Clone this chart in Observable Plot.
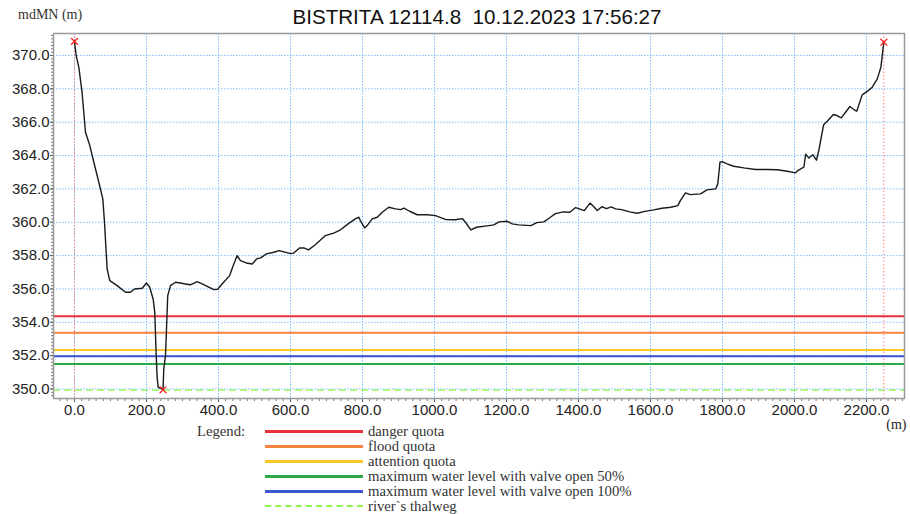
<!DOCTYPE html>
<html><head><meta charset="utf-8">
<script src="https://cdn.jsdelivr.net/npm/d3@7"></script>
<script src="https://cdn.jsdelivr.net/npm/@observablehq/plot@0.6"></script>
<style>
body{margin:0;background:#fff;width:910px;height:514px;position:relative;overflow:hidden;font-family:"Liberation Sans",Arial,sans-serif;color:#222}
#ylab{position:absolute;left:18px;top:7px;font-size:14px;font-family:"Liberation Serif",serif;color:#333}
#title{position:absolute;left:0;width:954px;top:5px;text-align:center;font-size:20.6px;white-space:pre;color:#111}
#chart{position:absolute;left:0;top:28px}
#legend{position:absolute;left:0;top:424px;font-family:"Liberation Serif",serif;font-size:14.7px;color:#333}
.row{position:absolute;height:15px;line-height:15px;white-space:nowrap}
.sw{position:absolute;left:265px;width:98px;top:6px;height:0}
.lt{position:absolute;left:368px;top:0}
#legtitle{position:absolute;left:197px;top:0;height:15px;line-height:15px}
</style></head>
<body>
<div id="ylab">mdMN (m)</div>
<div id="title">BISTRITA 12114.8  10.12.2023 17:56:27</div>
<div id="chart"></div>
<div id="legend"></div>
<script>
// ---- data ----
const dist = [0,4.6,12,21,30.5,42.6,53.7,67.6,78.7,83.3,90.7,98,118.5,141.7,155.6,166.7,188,200,209,218.5,223,227,229.6,232.4,243.5,246,248,252.8,255.6,259,266.7,280.6,294,308,322,340.7,359,387,398,410,431,441,452,461,477,494,506,517,533,554,568,582,600,609,625,637,650,669,697,720,739,760,780,790,794,806,813,827,841,855,873,892,906,915,931,952,980,1003,1032,1058,1077,1086,1101,1117,1146,1165,1179,1201,1216,1234,1268,1284,1304,1322,1336,1358,1376,1392,1416,1432,1442,1452,1465,1478,1491,1503,1520,1542,1563,1584,1609,1632,1656,1676,1683,1697,1711,1739,1757,1781,1787,1793,1799,1813,1831,1859,1892,1924,1952,1980,2003,2009,2026,2031,2040,2051,2061,2068,2081,2091,2108,2118,2130,2142,2154,2165,2173,2188,2204,2216,2230,2240,2246,2248];
const elev = [370.85,370.0,369.3,367.8,365.4,364.6,363.6,362.4,361.4,360.0,357.2,356.5,356.2,355.8,355.8,356.0,356.04,356.36,356.1,355.4,354.6,352.0,350.7,350.1,350.0,349.95,351.2,352.0,353.6,355.6,356.2,356.4,356.36,356.3,356.25,356.44,356.26,355.96,355.98,356.3,356.8,357.4,358.0,357.7,357.56,357.5,357.8,357.86,358.1,358.2,358.3,358.22,358.12,358.15,358.46,358.46,358.34,358.65,359.2,359.35,359.55,359.9,360.2,360.3,360.1,359.66,359.8,360.2,360.3,360.6,360.9,360.8,360.76,360.85,360.66,360.45,360.45,360.4,360.16,360.15,360.22,360.0,359.54,359.7,359.78,359.84,360.02,360.06,359.9,359.84,359.8,359.98,360.02,360.3,360.52,360.62,360.6,360.88,360.7,361.15,360.94,360.7,360.93,360.82,360.92,360.8,360.76,360.62,360.54,360.65,360.74,360.84,360.9,361.0,361.3,361.76,361.66,361.7,361.94,362.0,362.3,363.6,363.64,363.5,363.36,363.26,363.16,363.16,363.15,363.06,362.96,363.1,363.3,364.08,363.85,364.05,363.72,364.35,365.85,366.06,366.46,366.4,366.26,366.6,366.94,366.76,366.66,367.64,367.88,368.1,368.6,369.3,370.4,370.8];
const markerDist = [0, 246, 2248];
const markerElev = [370.85, 349.95, 370.8];
const levelNames = ["danger quota","flood quota","attention quota","maximum water level with valve open 50%","maximum water level with valve open 100%"];
const levelValues = [354.36, 353.38, 352.34, 351.5, 351.96];
const thalwegName = "river`s thalweg";
const thalwegValue = 349.93;
const xTicks = [0,200,400,600,800,1000,1200,1400,1600,1800,2000,2200];
const yTicks = [350,352,354,356,358,360,362,364,366,368,370];

// ---- styles ----
const levelColors = ["#e8313a","#f5843e","#fdc829","#2aa84a","#3b55cc"];
const thalwegColor = "#8ef54a";

const profile = dist.map((d,i)=>({d, z: elev[i]}));
const markers = markerDist.map((d,i)=>({d, z: markerElev[i]}));
const levels = levelNames.map((n,i)=>({name:n, value: levelValues[i], color: levelColors[i]}));
const xMinor = d3.range(-40, 2301, 20);
const yMinor = d3.range(349.6, 371.21, 0.2).map(v=>+v.toFixed(1));
const fmt = d => d.toFixed(1);

const plot = Plot.plot({
  width: 910, height: 405,
  marginLeft: 53, marginRight: 6, marginTop: 5, marginBottom: 35,
  style: {fontSize: "15px", fontFamily: "Liberation Sans, Arial, sans-serif", color: "#222", background: "#fff"},
  x: {domain: [-58.3, 2305.6], label: null},
  y: {domain: [349.43, 371.32], label: null},
  marks: [
    Plot.gridX(xTicks, {stroke: "#7fbfff", strokeOpacity: 1, strokeDasharray: "1.5,1.5"}),
    Plot.gridY(yTicks, {stroke: "#7fbfff", strokeOpacity: 1, strokeDasharray: "1.5,1.5"}),
    Plot.ruleX([markerDist[0], markerDist[2]], {stroke: "#ff8080", strokeDasharray: "1.5,2"}),
    ...levels.map(l => Plot.ruleY([l.value], {stroke: l.color, strokeWidth: 2})),
    Plot.ruleY([thalwegValue], {stroke: thalwegColor, strokeWidth: 1.3, strokeDasharray: "7,4"}),
    Plot.line(profile, {x: "d", y: "z", stroke: "#1a1a1a", strokeWidth: 1.4}),
    Plot.dot(markers, {x: "d", y: "z", symbol: "times", r: 3.2, stroke: "#ff2020", strokeWidth: 1.3}),
    Plot.axisX(xMinor, {tickSize: 3, text: null, stroke: "#777", label: null}),
    Plot.axisY(yMinor, {tickSize: 2, text: null, stroke: "#777", label: null}),
    Plot.axisX(xTicks, {tickSize: 4, tickPadding: 2, tickFormat: fmt, stroke: "#555", fill: "#222", label: null}),
    Plot.axisY(yTicks, {tickSize: 3, tickPadding: 1, tickFormat: fmt, stroke: "#555", fill: "#222", label: null}),
    Plot.frame({stroke: "#999", strokeWidth: 1.5}),
    Plot.text(["(m)"], {frameAnchor: "bottom-right", dy: 30, dx: 2, textAnchor: "end", fontFamily: "Liberation Serif, serif", fontSize: 14})
  ]
});
document.getElementById("chart").appendChild(plot);

// legend
const leg = document.getElementById("legend");
const lt = document.createElement("div"); lt.id = "legtitle"; lt.textContent = "Legend:"; leg.appendChild(lt);
const legendOrder = [0,1,2,3,4];
const items = legendOrder.map(i => ({name: levelNames[i], color: levelColors[i], dash: false}))
  .concat([{name: thalwegName, color: thalwegColor, dash: true}]);
items.forEach((it, i) => {
  const r = document.createElement("div"); r.className = "row"; r.style.top = (i*15) + "px"; r.style.left = "0"; r.style.width = "700px";
  const s = document.createElement("div"); s.className = "sw";
  s.style.borderTop = it.dash ? `2px dashed ${it.color}` : `3px solid ${it.color}`;
  const t = document.createElement("div"); t.className = "lt"; t.textContent = it.name;
  r.appendChild(s); r.appendChild(t); leg.appendChild(r);
});
</script>
</body></html>
